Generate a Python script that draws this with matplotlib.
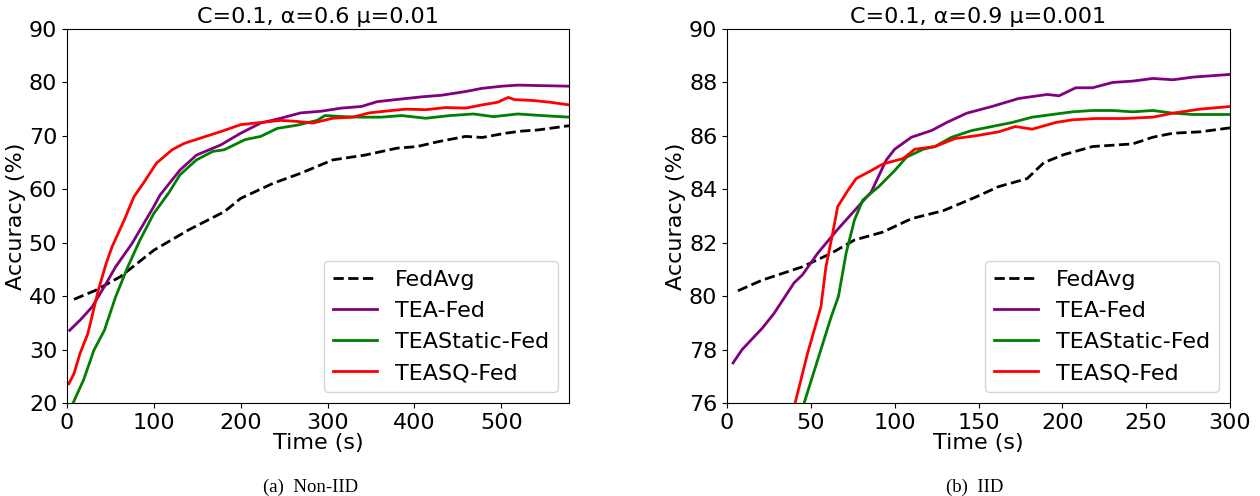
import numpy as np
import matplotlib
matplotlib.use('Agg')
import matplotlib.pyplot as plt

# Non-IID (a): C=0.1, alpha=0.6, mu=0.01
t_avg_a = [8, 33, 61, 100, 140, 181, 200, 237, 269, 306, 343, 380, 403, 427, 459, 478, 505, 524, 542, 578]
acc_avg_a = [39.4, 41.1, 43.6, 48.6, 52.4, 55.8, 58.3, 61.1, 63.0, 65.5, 66.4, 67.7, 68.0, 68.9, 69.9, 69.7, 70.5, 70.9, 71.1, 71.9]

t_tea_a = [3, 15, 29, 43, 56, 75, 100, 107, 130, 149, 177, 200, 223, 246, 269, 292, 316, 339, 357, 385,
           408, 431, 459, 478, 501, 519, 547, 578]
acc_tea_a = [33.6, 35.5, 38.0, 41.8, 45.5, 49.9, 56.8, 58.9, 63.6, 66.4, 68.3, 70.5, 72.4, 73.3, 74.3, 74.6,
             75.2, 75.5, 76.4, 76.9, 77.3, 77.6, 78.3, 78.9, 79.3, 79.5, 79.4, 79.3]

t_static_a = [7, 10, 19, 31, 43, 56, 70, 84, 100, 117, 130, 149, 168, 181, 205, 223, 242, 265, 288, 297,
              320, 339, 362, 385, 413, 441, 468, 491, 519, 547, 578]
acc_static_a = [20.0, 21.1, 24.3, 29.9, 33.6, 39.9, 45.5, 50.5, 55.5, 59.3, 62.7, 65.5, 67.1, 67.4, 69.3,
                69.9, 71.4, 72.0, 72.9, 73.8, 73.6, 73.5, 73.5, 73.8, 73.3, 73.8, 74.1, 73.6, 74.1, 73.8, 73.5]

t_sq_a = [2, 8, 15, 24, 36, 45, 52, 66, 77, 89, 103, 121, 135, 154, 177, 200, 223, 246, 265, 283, 306,
          329, 348, 371, 390, 413, 436, 459, 478, 496, 508, 515, 538, 556, 578]
acc_sq_a = [23.6, 25.5, 29.3, 33.0, 41.1, 46.1, 49.3, 54.3, 58.6, 61.4, 64.9, 67.4, 68.6, 69.6, 70.8, 72.1,
            72.5, 72.9, 72.7, 72.4, 73.3, 73.5, 74.3, 74.7, 75.0, 74.9, 75.3, 75.2, 75.8, 76.3, 77.2, 76.8,
            76.6, 76.3, 75.8]

# IID (b): C=0.1, alpha=0.9, mu=0.001
t_avg_b = [6.5, 21, 45, 62, 76, 93, 110, 129, 148, 162, 179, 189, 201, 218, 242, 254, 266, 282, 300]
acc_avg_b = [80.2, 80.6, 81.1, 81.6, 82.1, 82.4, 82.9, 83.2, 83.7, 84.1, 84.4, 85.0, 85.3, 85.6, 85.7,
             85.95, 86.1, 86.15, 86.3]

t_tea_b = [3.6, 9, 21, 28, 40, 45, 54, 66, 76, 86, 95, 100, 110, 122, 131, 143, 158, 174, 191, 198, 208,
           218, 230, 242, 254, 266, 278, 300]
acc_tea_b = [77.5, 78.0, 78.8, 79.35, 80.5, 80.8, 81.6, 82.5, 83.2, 83.9, 85.1, 85.5, 85.95, 86.2, 86.5,
             86.85, 87.1, 87.4, 87.55, 87.5, 87.8, 87.8, 88.0, 88.05, 88.15, 88.1, 88.2, 88.3]

t_static_b = [38, 46, 54.5, 62, 66.5, 71, 76, 81, 90.5, 100, 107, 117, 124, 134, 146, 158, 170, 182, 194,
              206, 218, 230, 242, 254, 266, 278, 300]
acc_static_b = [74.5, 76.0, 77.7, 79.2, 80.0, 81.6, 82.85, 83.6, 84.1, 84.7, 85.2, 85.5, 85.6, 85.95, 86.2,
                86.35, 86.5, 86.7, 86.8, 86.9, 86.95, 86.95, 86.9, 86.95, 86.85, 86.8, 86.8]

t_sq_b = [35, 40.6, 48, 56, 59, 63, 66, 72, 77, 86, 93, 105, 112, 124, 136, 148, 162, 172, 182, 196, 206,
          220, 237, 254, 266, 282, 300]
acc_sq_b = [74.6, 76.0, 77.85, 79.6, 81.1, 82.35, 83.35, 83.95, 84.4, 84.7, 84.95, 85.15, 85.5, 85.6, 85.9,
            86.0, 86.15, 86.35, 86.25, 86.5, 86.6, 86.65, 86.65, 86.7, 86.85, 87.0, 87.1]

plt.rcParams['font.family'] = 'DejaVu Sans'
fs = 16

fig = plt.figure(figsize=(12.6, 4.96), dpi=100)
ax1 = fig.add_axes([0.0532, 0.1875, 0.3984, 0.754])
ax2 = fig.add_axes([0.5770, 0.1875, 0.3992, 0.754])

def draw(ax, data, xlim, ylim, yticks, title):
    (ta, aa), (tt, at), (ts, as_), (tq, aq) = data
    ax.plot(ta, aa, color='black', linestyle='--', linewidth=2, label='FedAvg')
    ax.plot(tt, at, color='purple', linewidth=2, label='TEA-Fed')
    ax.plot(ts, as_, color='green', linewidth=2, label='TEAStatic-Fed')
    ax.plot(tq, aq, color='red', linewidth=2, label='TEASQ-Fed')
    ax.set_xlim(*xlim)
    ax.set_ylim(*ylim)
    ax.set_yticks(yticks)
    ax.tick_params(labelsize=fs)
    ax.set_xlabel('Time (s)', fontsize=fs, labelpad=0)
    ax.set_ylabel('Accuracy (%)', fontsize=fs, labelpad=2)
    ax.set_title(title, fontsize=fs, pad=4)
    ax.legend(loc='lower right', fontsize=fs)

draw(ax1, [(t_avg_a, acc_avg_a), (t_tea_a, acc_tea_a), (t_static_a, acc_static_a), (t_sq_a, acc_sq_a)],
     (0, 578), (20, 90), [20, 30, 40, 50, 60, 70, 80, 90], 'C=0.1, α=0.6 μ=0.01')
ax1.set_xticks([0, 100, 200, 300, 400, 500])
draw(ax2, [(t_avg_b, acc_avg_b), (t_tea_b, acc_tea_b), (t_static_b, acc_static_b), (t_sq_b, acc_sq_b)],
     (0, 300), (76, 90), [76, 78, 80, 82, 84, 86, 88, 90], 'C=0.1, α=0.9 μ=0.001')
ax2.set_xticks([0, 50, 100, 150, 200, 250, 300])

fig.text(311 / 1260, 1 - 487 / 496, '(a)  Non-IID', ha='center', va='center',
         fontsize=13.5, family='Liberation Serif')
fig.text(975 / 1260, 1 - 487 / 496, '(b)  IID', ha='center', va='center',
         fontsize=13.5, family='Liberation Serif')

fig.savefig('out.png', dpi=100)
